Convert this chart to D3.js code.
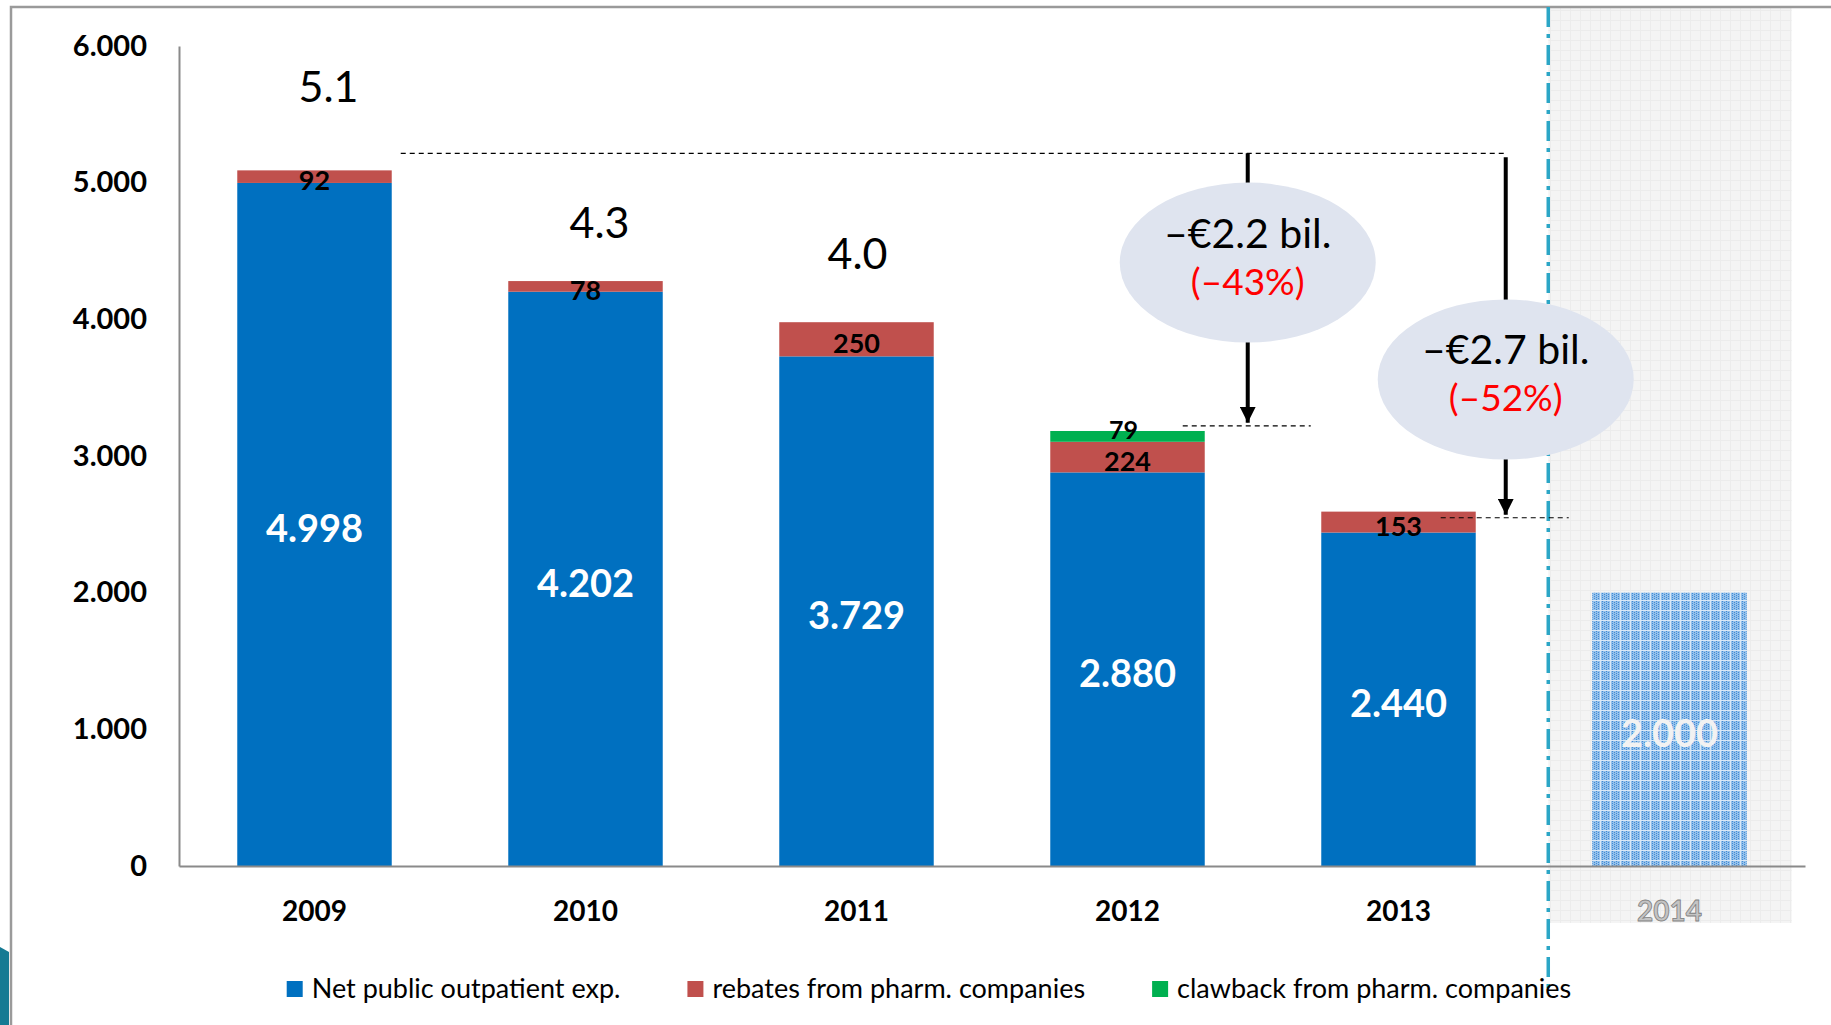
<!DOCTYPE html>
<html>
<head>
<meta charset="utf-8">
<script src="https://cdn.jsdelivr.net/npm/d3@7"></script>
<style>
  body { margin: 0; background: #fff; }
  svg { display: block; font-family: Lato, "Noto Sans", sans-serif; }
</style>
</head>
<body>
<script>
"use strict";
(function(){
  // data (millions of euro, dot as thousands separator)
  const years = ['2009', '2010', '2011', '2012', '2013', '2014']
  const netExp = [4998, 4202, 3729, 2880, 2440, 2000]
  const rebates = [92, 78, 250, 224, 153, 0]
  const clawback = [0, 0, 0, 79, 0, 0]
  const totalLabels = ['5.1', '4.3', '4.0', '', '', '']
  const yTicks = [0, 1000, 2000, 3000, 4000, 5000, 6000]
  const seriesNames = ['Net public outpatient exp.', 'rebates from pharm. companies', 'clawback from pharm. companies']
  const seriesColors = ['#0070c0', '#c0504d', '#00b050']
  const forecastYear = '2014'
  // drop annotations: reference level, target level, ellipse centre level (in data units)
  const dropText = ['\u2013\u20ac2.2 bil.', '\u2013\u20ac2.7 bil.']
  const dropPct = ['(\u201343%)', '(\u201352%)']
  const dropFrom = [5215, 5215]
  const dropTo = [3221, 2548]
  const dropMid = [4415, 3560]
  const dropYear = ['2012', '2013']

  // layout nudges (px), not data
  const totalLift = [85, 60, 70]
  const totalShift = [14, 14, 1]
  const arrowShift = [43, 30]

  const m = { width: 1831, height: 1025 }

  const svg = d3.select('body').append('svg')
      .attr('width', m.width)
      .attr('height', m.height)

  const defs = svg.append('defs')
  // light grey grid for the forecast area
  let shade = defs.append('pattern').attr('id', 'shade')
      .attr('patternUnits', 'userSpaceOnUse').attr('width', 10).attr('height', 10)
  shade.append('rect').attr('width', 10).attr('height', 10).attr('fill', '#f4f4f4')
  shade.append('path').attr('d', 'M0,0.5H10M0.5,0V10').attr('stroke', '#ececec').attr('stroke-width', 1)
  // dotted blue for the forecast bar
  let dots = defs.append('pattern').attr('id', 'dots')
      .attr('patternUnits', 'userSpaceOnUse').attr('width', 10).attr('height', 10)
  dots.append('rect').attr('width', 10).attr('height', 10).attr('fill', '#94c0ea')
  for (let i = 0; i < 10; i += 2) {
    for (let j = (i / 2) % 2; j < 10; j += 2) {
      dots.append('rect').attr('x', i).attr('y', j).attr('width', 1).attr('height', 1).attr('fill', '#3f8bd6')
    }
  }
  dots.append('path').attr('d', 'M0,0.5H10M0.5,0V10').attr('stroke', '#d9e8f7').attr('stroke-width', 1)
  defs.append('marker').attr('id', 'head')
      .attr('markerUnits', 'userSpaceOnUse')
      .attr('viewBox', '0 0 16 16').attr('refX', 16).attr('refY', 8)
      .attr('markerWidth', 16).attr('markerHeight', 16).attr('orient', 'auto')
    .append('path').attr('d', 'M0,0L16,8L0,16Z').attr('fill', '#000')

  const x = d3.scaleBand()
      .domain(years)
      .range([179, 1805])
      .paddingInner(0.43)
      .paddingOuter(0.215)
  const y = d3.scaleLinear()
      .domain([0, 6000])
      .range([866, 46])

  const locale = d3.formatLocale({ decimal: ',', thousands: '.', grouping: [3], currency: ['\u20ac', ''] })
  const fmt = locale.format(',.0f')

  // forecast background
  const fx0 = x(forecastYear) - 44
  svg.append('rect')
      .attr('x', fx0)
      .attr('y', 7)
      .attr('width', x(forecastYear) + x.bandwidth() + 45 - fx0)
      .attr('height', 916)
      .attr('fill', 'url(#shade)')

  // slide frame
  svg.append('path')
      .attr('d', 'M11,1025V7H1831')
      .attr('fill', 'none')
      .attr('stroke', '#9a9a9a')
      .attr('stroke-width', 2.5)
  svg.append('path')
      .attr('d', 'M0,947L9,952V1025H0Z')
      .attr('fill', '#157a93')

  // dash-dot separator before the forecast year
  svg.append('line')
      .attr('x1', fx0)
      .attr('x2', fx0)
      .attr('y1', 7)
      .attr('y2', 990)
      .attr('stroke', '#2ba6c6')
      .attr('stroke-width', 3.5)
      .attr('stroke-dasharray', '20,7,4,7')

  // y axis
  const yAxis = svg.append('g')
      .attr('transform', 'translate(179,0)')
      .call(d3.axisLeft(y).tickValues(yTicks).tickFormat(fmt).tickSize(0).tickSizeOuter(0).tickPadding(32))
  yAxis.select('.domain').attr('stroke', '#8a8a8a').attr('stroke-width', 2)
  yAxis.selectAll('text')
      .attr('font-family', 'Lato, sans-serif')
      .attr('font-size', 29)
      .attr('font-weight', 'bold')
      .attr('fill', '#000')

  // stacked bars
  const rows = years.map((d, i) => ({ year: d, net: netExp[i], reb: rebates[i], claw: clawback[i] }))
  const stack = d3.stack().keys(['net', 'reb', 'claw'])(rows)
  const g = svg.append('g')
  stack.forEach(function(layer, k){
    g.selectAll('.s' + k)
      .data(layer)
      .enter()
      .append('rect')
        .attr('x', d => x(d.data.year))
        .attr('y', d => y(d[1]))
        .attr('width', x.bandwidth())
        .attr('height', d => y(d[0]) - y(d[1]))
        .attr('fill', d => d.data.year == forecastYear ? 'url(#dots)' : seriesColors[k])
  })

  // x axis baseline and year labels
  const xAxis = svg.append('g')
      .attr('transform', 'translate(0,866)')
      .call(d3.axisBottom(x).tickSize(0).tickSizeOuter(0).tickPadding(35))
  xAxis.select('.domain').attr('stroke', '#8a8a8a').attr('stroke-width', 2)
  xAxis.selectAll('text')
      .attr('font-family', 'Lato, sans-serif')
      .attr('font-size', 28)
      .attr('font-weight', 'bold')
      .attr('fill', d => d == forecastYear ? '#c4c4c4' : '#000')
      .attr('stroke', d => d == forecastYear ? '#808080' : 'none')
      .attr('stroke-width', 0.8)

  // value labels inside the blue bars
  g.selectAll('.netLabel')
    .data(rows)
    .enter()
    .append('text')
      .attr('x', d => x(d.year) + x.bandwidth() / 2)
      .attr('y', d => (y(0) + y(d.net)) / 2 + 3)
      .attr('text-anchor', 'middle')
      .attr('dominant-baseline', 'central')
      .attr('font-size', 38)
      .attr('font-weight', 'bold')
      .attr('fill', d => d.year == forecastYear ? '#f2f2f2' : '#fff')
      .text(d => fmt(d.net))

  g.selectAll('.rebLabel')
    .data(rows.filter(d => d.reb > 0))
    .enter()
    .append('text')
      .attr('x', d => x(d.year) + x.bandwidth() / 2)
      .attr('y', d => (y(d.net) + y(d.net + d.reb)) / 2 + 3)
      .attr('text-anchor', 'middle')
      .attr('dominant-baseline', 'central')
      .attr('font-size', 27)
      .attr('font-weight', 'bold')
      .attr('fill', '#000')
      .text(d => d.reb)

  g.selectAll('.clawLabel')
    .data(rows.filter(d => d.claw > 0))
    .enter()
    .append('text')
      .attr('x', d => x(d.year) + x.bandwidth() / 2 - 4)
      .attr('y', d => (y(d.net + d.reb) + y(d.net + d.reb + d.claw)) / 2 - 7)
      .attr('text-anchor', 'middle')
      .attr('dominant-baseline', 'central')
      .attr('font-size', 25)
      .attr('font-weight', 'bold')
      .attr('fill', '#000')
      .text(d => d.claw)

  // totals in billions above the first bars
  g.selectAll('.totLabel')
    .data(rows.filter((d, i) => totalLabels[i] != ''))
    .enter()
    .append('text')
      .attr('x', (d, i) => x(d.year) + x.bandwidth() / 2 + totalShift[i])
      .attr('y', (d, i) => y(d.net + d.reb + d.claw) - totalLift[i])
      .attr('text-anchor', 'middle')
      .attr('dominant-baseline', 'central')
      .attr('font-size', 43)
      .attr('fill', '#000')
      .text((d, i) => totalLabels[i])

  // dashed reference line from the 2009 level
  const ann = svg.append('g')
  const ax = dropYear.map((d, i) => x(d) + x.bandwidth() + arrowShift[i])
  ann.append('line')
      .attr('x1', x('2009') + x.bandwidth() + 9)
      .attr('x2', ax[1])
      .attr('y1', y(dropFrom[0]))
      .attr('y2', y(dropFrom[0]))
      .attr('stroke', '#000')
      .attr('stroke-width', 1.2)
      .attr('stroke-dasharray', '5,4')

  dropText.forEach(function(t, i){
    ann.append('line')
        .attr('x1', ax[i] - 65)
        .attr('x2', ax[i] + 63)
        .attr('y1', y(dropTo[i]))
        .attr('y2', y(dropTo[i]))
        .attr('stroke', '#000')
        .attr('stroke-width', 1.2)
        .attr('stroke-dasharray', '5,4')
    ann.append('line')
        .attr('x1', ax[i])
        .attr('x2', ax[i])
        .attr('y1', y(dropFrom[i]) + (i == 0 ? 0 : 4))
        .attr('y2', y(dropTo[i]) - 3)
        .attr('stroke', '#000')
        .attr('stroke-width', 4)
        .attr('marker-end', 'url(#head)')
    ann.append('ellipse')
        .attr('cx', ax[i])
        .attr('cy', y(dropMid[i]))
        .attr('rx', 128)
        .attr('ry', 80)
        .attr('fill', '#dfe4ef')
    ann.append('text')
        .attr('x', ax[i])
        .attr('y', y(dropMid[i]) - 15)
        .attr('text-anchor', 'middle')
        .attr('font-size', 41)
        .attr('fill', '#000')
        .text(t)
    ann.append('text')
        .attr('x', ax[i])
        .attr('y', y(dropMid[i]) + 32)
        .attr('text-anchor', 'middle')
        .attr('font-size', 37)
        .attr('fill', '#ff0000')
        .text(dropPct[i])
  })

  // legend
  const legend = svg.append('g').attr('transform', 'translate(0,989)')
  let items = legend.selectAll('g')
    .data(seriesNames)
    .enter()
    .append('g')
  items.append('rect')
      .attr('y', -8)
      .attr('width', 16)
      .attr('height', 16)
      .attr('fill', (d, i) => seriesColors[i])
  items.append('text')
      .attr('x', 25)
      .attr('y', 9)
      .attr('font-size', 27)
      .attr('fill', '#000')
      .text(d => d)
  let widths = []
  items.each(function(){ widths.push(25 + d3.select(this).select('text').node().getComputedTextLength()) })
  const gap = 67
  const total = d3.sum(widths) + gap * (widths.length - 1)
  let cursor = 929 - total / 2
  items.attr('transform', function(d, i){
    let t = 'translate(' + cursor + ',0)'
    cursor += widths[i] + gap
    return t
  })
})();
</script>
</body>
</html>
